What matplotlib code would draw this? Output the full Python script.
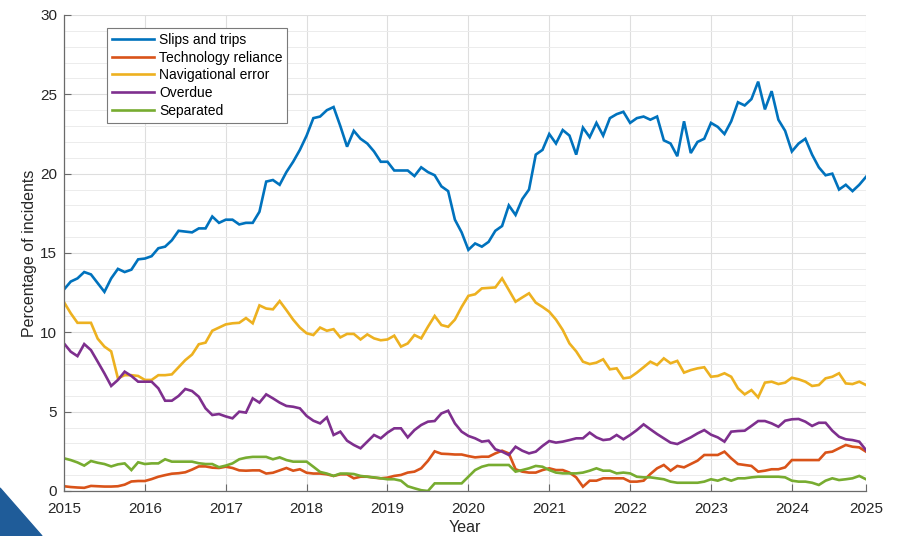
import matplotlib
matplotlib.use("Agg")
import numpy as np
import matplotlib.pyplot as plt
from matplotlib.patches import Polygon

plt.rcParams['font.family'] = ['Liberation Sans', 'DejaVu Sans']

# monthly values, Jan 2015 .. Dec 2024 (percent of incidents)
slips_trips = [
    12.7, 13.2, 13.4, 13.8, 13.65, 13.1, 12.55, 13.4, 14.0, 13.8, 13.95, 14.6,
    14.65, 14.8, 15.3, 15.4, 15.8, 16.4, 16.35, 16.3, 16.55, 16.55, 17.3, 16.9,
    17.1, 17.1, 16.8, 16.9, 16.9, 17.6, 19.5, 19.6, 19.3, 20.1, 20.75, 21.5,
    22.4, 23.5, 23.6, 24.0, 24.2, 23.0, 21.7, 22.7, 22.2, 21.9, 21.4, 20.75,
    20.75, 20.2, 20.2, 20.2, 19.85, 20.4, 20.1, 19.9, 19.2, 18.9, 17.1, 16.3,
    15.2, 15.6, 15.4, 15.7, 16.4, 16.7, 18.0, 17.4, 18.4, 19.0, 21.2, 21.5,
    22.5, 21.9, 22.75, 22.4, 21.2, 22.9, 22.3, 23.2, 22.4, 23.5, 23.75, 23.9,
    23.2, 23.5, 23.6, 23.4, 23.6, 22.1, 21.9, 21.1, 23.3, 21.3, 22.0, 22.2,
    23.2, 22.95, 22.5, 23.3, 24.5, 24.3, 24.7, 25.8, 24.05, 25.2, 23.4, 22.7,
    21.4, 21.9, 22.2, 21.2, 20.4, 19.9, 20.0, 19.0, 19.3, 18.9, 19.3, 19.8,
]
tech_reliance = [
    0.3, 0.25, 0.22, 0.2, 0.32, 0.3, 0.28, 0.28, 0.3, 0.4, 0.6, 0.63,
    0.63, 0.75, 0.9, 1.0, 1.09, 1.12, 1.18, 1.35, 1.55, 1.55, 1.47, 1.45,
    1.53, 1.45, 1.3, 1.28, 1.3, 1.3, 1.1, 1.15, 1.3, 1.45, 1.28, 1.37,
    1.15, 1.1, 1.1, 1.05, 0.95, 1.05, 1.05, 0.8, 0.9, 0.9, 0.84, 0.8,
    0.84, 0.95, 1.01, 1.16, 1.22, 1.43, 1.9, 2.5, 2.35, 2.33, 2.3, 2.3,
    2.2, 2.12, 2.16, 2.16, 2.37, 2.54, 2.37, 1.37, 1.22, 1.16, 1.16, 1.32,
    1.43, 1.32, 1.32, 1.16, 0.86, 0.27, 0.65, 0.65, 0.8, 0.8, 0.8, 0.8,
    0.59, 0.59, 0.65, 1.07, 1.43, 1.64, 1.28, 1.58, 1.49, 1.7, 1.91, 2.27,
    2.27, 2.27, 2.48, 2.06, 1.7, 1.64, 1.58, 1.22, 1.28, 1.37, 1.37, 1.49,
    1.95, 1.95, 1.95, 1.95, 1.95, 2.42, 2.48, 2.69, 2.9, 2.79, 2.75, 2.48,
]
nav_error = [
    11.9, 11.2, 10.6, 10.6, 10.6, 9.6, 9.1, 8.8, 7.1, 7.3, 7.3, 7.25,
    7.0, 7.0, 7.3, 7.3, 7.35, 7.8, 8.25, 8.6, 9.25, 9.35, 10.1, 10.3,
    10.5, 10.57, 10.6, 10.9, 10.57, 11.7, 11.5, 11.45, 11.97, 11.4, 10.8, 10.3,
    9.94, 9.83, 10.3, 10.1, 10.2, 9.68, 9.9, 9.9, 9.55, 9.87, 9.62, 9.5,
    9.55, 9.79, 9.1, 9.3, 9.83, 9.62, 10.35, 11.03, 10.46, 10.35, 10.8, 11.6,
    12.3, 12.4, 12.77, 12.8, 12.83, 13.4, 12.67, 11.93, 12.2, 12.46, 11.87, 11.6,
    11.3, 10.8, 10.15, 9.3, 8.8, 8.15, 8.0, 8.09, 8.3, 7.67, 7.73, 7.1,
    7.16, 7.46, 7.8, 8.15, 7.94, 8.36, 8.05, 8.2, 7.46, 7.62, 7.73, 7.8,
    7.2, 7.25, 7.42, 7.2, 6.47, 6.09, 6.36, 5.9, 6.83, 6.89, 6.74, 6.83,
    7.14, 7.04, 6.89, 6.62, 6.68, 7.1, 7.2, 7.42, 6.78, 6.74, 6.89, 6.68,
]
overdue = [
    9.3, 8.78, 8.5, 9.26, 8.88, 8.15, 7.41, 6.62, 7.0, 7.52, 7.25, 6.89,
    6.89, 6.89, 6.47, 5.69, 5.69, 5.99, 6.43, 6.3, 5.94, 5.21, 4.79, 4.85,
    4.7, 4.58, 5.0, 4.94, 5.84, 5.57, 6.09, 5.84, 5.57, 5.36, 5.31, 5.21,
    4.73, 4.43, 4.26, 4.64, 3.53, 3.74, 3.17, 2.9, 2.69, 3.11, 3.53, 3.32,
    3.68, 3.95, 3.95, 3.38, 3.84, 4.16, 4.37, 4.41, 4.89, 5.06, 4.26, 3.74,
    3.47, 3.32, 3.11, 3.17, 2.63, 2.48, 2.27, 2.79, 2.54, 2.37, 2.48, 2.84,
    3.15, 3.05, 3.11, 3.21, 3.32, 3.32, 3.68, 3.38, 3.21, 3.26, 3.53, 3.26,
    3.53, 3.84, 4.2, 3.89, 3.59, 3.32, 3.05, 2.96, 3.17, 3.38, 3.63, 3.84,
    3.55, 3.38, 3.11, 3.74, 3.78, 3.8, 4.1, 4.41, 4.41, 4.26, 4.05, 4.43,
    4.52, 4.54, 4.37, 4.1, 4.3, 4.3, 3.8, 3.42, 3.26, 3.21, 3.11, 2.58,
]
separated = [
    2.06, 1.95, 1.8, 1.6, 1.89, 1.78, 1.7, 1.55, 1.68, 1.74, 1.32, 1.81,
    1.7, 1.74, 1.74, 2.0, 1.85, 1.85, 1.85, 1.85, 1.75, 1.7, 1.7, 1.5,
    1.6, 1.74, 2.0, 2.1, 2.15, 2.15, 2.15, 2.0, 2.12, 1.95, 1.85, 1.85,
    1.85, 1.53, 1.2, 1.1, 0.95, 1.1, 1.1, 1.07, 0.95, 0.9, 0.86, 0.8,
    0.74, 0.74, 0.65, 0.3, 0.17, 0.05, 0.0, 0.48, 0.48, 0.48, 0.48, 0.48,
    0.9, 1.32, 1.53, 1.64, 1.64, 1.64, 1.64, 1.22, 1.32, 1.43, 1.58, 1.53,
    1.32, 1.16, 1.11, 1.11, 1.11, 1.16, 1.28, 1.43, 1.28, 1.28, 1.11, 1.16,
    1.11, 0.9, 0.86, 0.86, 0.8, 0.74, 0.59, 0.52, 0.52, 0.52, 0.52, 0.59,
    0.74, 0.65, 0.8, 0.65, 0.8, 0.8, 0.86, 0.9, 0.9, 0.9, 0.9, 0.86,
    0.65, 0.59, 0.59, 0.52, 0.38, 0.65, 0.8, 0.69, 0.74, 0.8, 0.95, 0.74,
]

series = [
    ("Slips and trips", slips_trips, "#0072BD"),
    ("Technology reliance", tech_reliance, "#D95319"),
    ("Navigational error", nav_error, "#EDB120"),
    ("Overdue", overdue, "#7E2F8E"),
    ("Separated", separated, "#77AC30"),
]
year_labels = [str(y) for y in range(2015, 2026)]

months = np.arange(len(slips_trips))

fig = plt.figure(figsize=(8.99, 5.36), dpi=100)
ax = fig.add_axes([64 / 899, 45 / 536, 802 / 899, 476 / 536])

for name, vals, col in series:
    ax.plot(months, vals, color=col, lw=1.9, label=name, solid_joinstyle='miter')

ax.set_xlim(months[0], months[-1])
ax.set_ylim(0, 30)
# the last tick closes the axis at the end of 2024
tick_pos = list(range(0, len(months), 12)) + [months[-1]]
ax.set_xticks(tick_pos)
ax.set_xticklabels(year_labels)
ax.set_yticks(np.arange(0, 31, 5))
ax.set_yticks(np.arange(0, 31, 1), minor=True)

ax.grid(True, which='major', color='#dedede', lw=0.8)
ax.grid(True, which='minor', axis='y', color='#ececec', lw=0.7)
ax.set_axisbelow(True)

for side in ('top', 'right'):
    ax.spines[side].set_visible(False)
for side in ('left', 'bottom'):
    ax.spines[side].set_color('#6a6a6a')
    ax.spines[side].set_linewidth(0.9)
ax.tick_params(which='major', direction='in', length=5, color='#6a6a6a',
               labelsize=11, labelcolor='#262626')
ax.tick_params(axis='x', which='major', pad=8)
ax.tick_params(axis='y', which='major', pad=5)
ax.tick_params(which='minor', length=0)

ax.set_xlabel('Year', fontsize=11.5, color='#262626', labelpad=3)
ax.set_ylabel('Percentage of incidents', fontsize=11.5, color='#262626', labelpad=2)

leg = ax.legend(loc='upper left', bbox_to_anchor=(43 / 802, 1 - 13 / 476),
                borderaxespad=0, fontsize=10, handlelength=3.0,
                labelspacing=0.27, handletextpad=0.4, borderpad=0.35,
                fancybox=False, framealpha=1)
leg.get_frame().set_edgecolor('#7a7a7a')
leg.get_frame().set_linewidth(0.8)

# corner decoration in the bottom-left
corner = Polygon([(0, 0), (0, 48 / 536), (42 / 899, 0)], closed=True,
                 transform=fig.transFigure, color='#1f5c99', zorder=0)
fig.patches.append(corner)

fig.savefig('out.png', dpi=100)
